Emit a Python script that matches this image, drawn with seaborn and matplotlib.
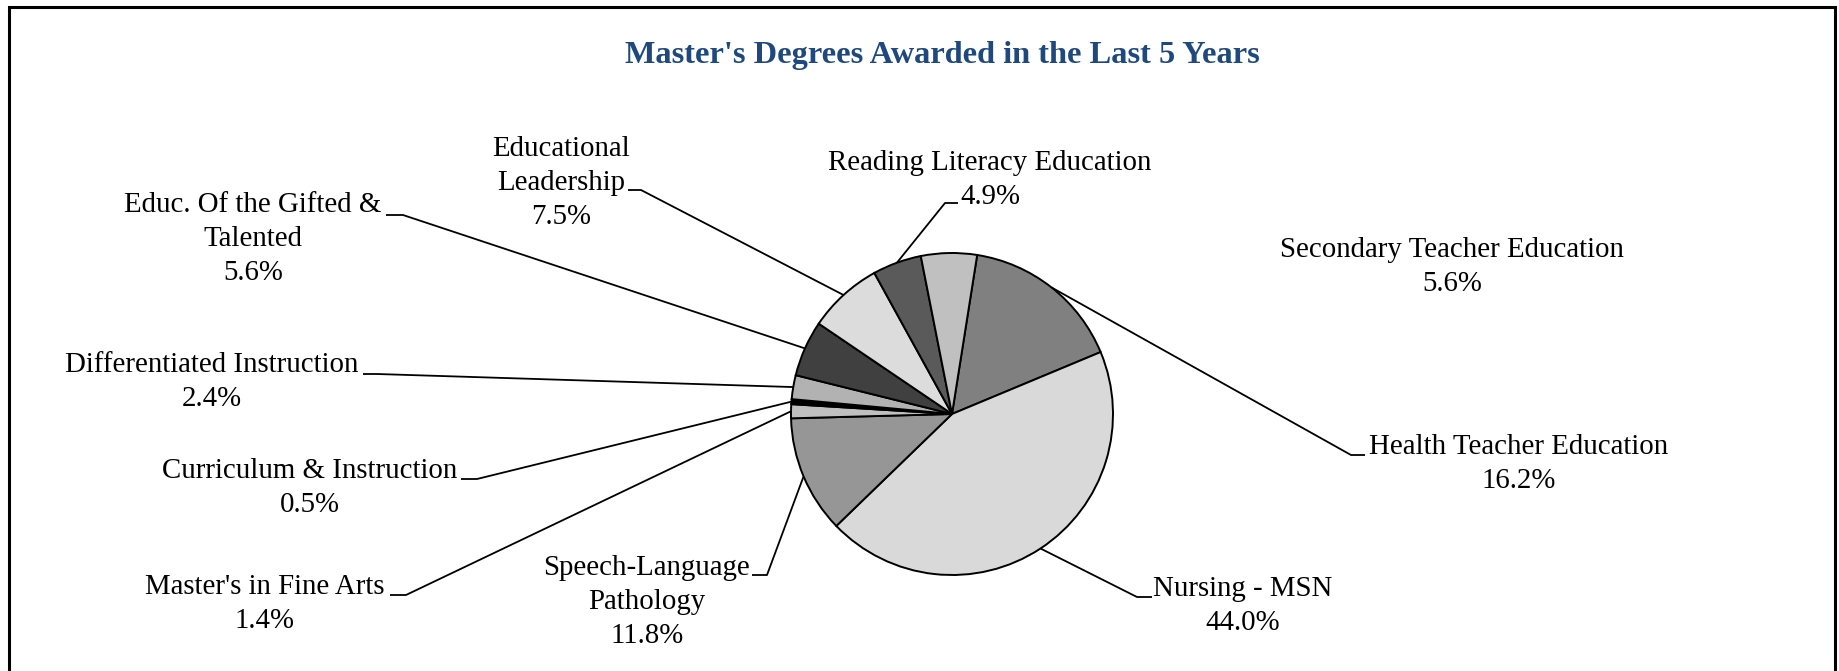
import numpy as np
import matplotlib
matplotlib.use("Agg")
import matplotlib.pyplot as plt
import seaborn as sns
from matplotlib.patches import Rectangle

# data: clockwise from the top, starting with Health Teacher Education
programs = ["Health Teacher Education", "Nursing - MSN", "Speech-Language\nPathology",
            "Master's in Fine Arts", "Curriculum & Instruction", "Differentiated Instruction",
            "Educ. Of the Gifted &\nTalented", "Educational\nLeadership",
            "Reading Literacy Education", "Secondary Teacher Education"]
shares = [16.2, 44.0, 11.8, 1.4, 0.5, 2.4, 5.6, 7.5, 4.9, 5.6]
grays = ['#808080', '#d9d9d9', '#969696', '#c0c0c0', '#000000',
         '#b2b2b2', '#404040', '#dcdcdc', '#5a5a5a', '#c0c0c0']

W, H = 1839, 671

# label layout in pixels from the top-left: text centre, stub (near text, far), stub y
label_pos = [(1519, 464), (1243, 606), (647, 602), (265, 604), (310, 488),
             (212, 382), (253, 239), (561, 183), (990, 180), (1452, 267)]
stubs = [(1365, 1351, 455), (1152, 1137, 597), (752, 767, 575), (390, 406, 595),
         (461, 477, 479), (363, 377, 374), (386, 403, 215), (628, 641, 190),
         (958, 945, 203), None]

sns.set_theme(style="white")
plt.rcParams['font.family'] = ['Liberation Serif', 'DejaVu Serif']

fig = plt.figure(figsize=(W / 100, H / 100), dpi=100)
ax = fig.add_axes([0, 0, 1, 1])

cx, cy, r = 952, H - 414, 161
wedges, _ = ax.pie(shares, colors=grays, startangle=81, counterclock=False,
                   center=(cx, cy), radius=r,
                   wedgeprops=dict(edgecolor='black', linewidth=1.4))

for i, w in enumerate(wedges):
    tx, ty = label_pos[i]
    lab = programs[i] + "\n" + f"{shares[i]:.1f}%"
    ax.text(tx, H - ty, lab, ha='center', va='center', multialignment='center',
            fontsize=20.8, color='black', linespacing=1.42)
    if stubs[i] is None:
        continue
    mid = np.deg2rad((w.theta1 + w.theta2) / 2)
    ex, ey = cx + r * np.cos(mid), cy + r * np.sin(mid)
    x0, x1, sy = stubs[i]
    ax.plot([x0, x1, ex], [H - sy, H - sy, ey], color='black', lw=1.3,
            solid_capstyle='butt', zorder=0)

ax.text(942, H - 56, "Master's Degrees Awarded in the Last 5 Years", ha='center',
        va='center', fontsize=23.3, fontweight='bold', color='#1f497d')

# outer frame (bottom edge runs off the picture)
ax.add_patch(Rectangle((9, -20), 1826, H - 7 + 20, fill=False, edgecolor='black',
                       linewidth=2.2, clip_on=False))

ax.set_xlim(0, W)
ax.set_ylim(0, H)
ax.set_aspect('equal')
ax.axis('off')

fig.savefig('out.png', dpi=100)
